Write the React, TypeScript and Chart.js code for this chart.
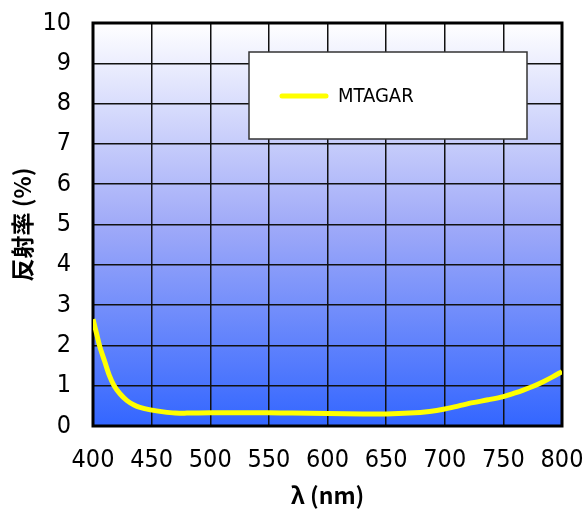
import { useEffect, useRef } from 'react';
import { Chart, registerables } from 'chart.js';

Chart.register(...registerables);

const wavelengths = [400, 403, 406, 410, 414, 418, 423, 429, 435, 440, 449, 460, 470, 480, 500, 520, 550, 570, 600, 630, 650, 670, 687, 700, 712, 724, 737, 750, 760, 767, 775, 784, 792, 800];
const reflectance = [2.65, 2.3, 1.95, 1.6, 1.25, 1.0, 0.8, 0.63, 0.52, 0.46, 0.4, 0.35, 0.32, 0.32, 0.33, 0.33, 0.33, 0.32, 0.31, 0.3, 0.3, 0.32, 0.36, 0.42, 0.5, 0.58, 0.65, 0.73, 0.82, 0.89, 0.98, 1.1, 1.22, 1.35];
const seriesLabel = 'MTAGAR';
const xTitle = 'λ (nm)';
const yTitle = '反射率 (%)';
const xMin = 400;
const xMax = 800;
const xStep = 50;
const yMin = 0;
const yMax = 10;
const yStep = 1;

const tickFont = '"DejaVu Sans Condensed", "Liberation Sans Narrow", sans-serif';

const bgPlugin = {
  id: 'bgGradient',
  beforeDraw(chart: any) {
    const { ctx, chartArea: a } = chart;
    if (!a) return;
    const g = ctx.createLinearGradient(0, a.top, 0, a.bottom);
    g.addColorStop(0, '#ffffff');
    g.addColorStop(0.5, '#a0aaf8');
    g.addColorStop(1, '#3366ff');
    ctx.save();
    ctx.fillStyle = g;
    ctx.fillRect(a.left, a.top, a.right - a.left, a.bottom - a.top);
    ctx.restore();
  },
  beforeDatasetsDraw(chart: any) {
    const { ctx, chartArea: a } = chart;
    ctx.save();
    ctx.strokeStyle = '#000000';
    ctx.lineWidth = 3;
    ctx.strokeRect(a.left, a.top, a.right - a.left, a.bottom - a.top);
    ctx.restore();
  },
};

const boxLegendPlugin = {
  id: 'boxLegend',
  afterDraw(chart: any) {
    const { ctx, chartArea: a } = chart;
    const ds = chart.data.datasets[0];
    const x0 = a.left + 156;
    const y0 = a.top + 29;
    const w = 278;
    const h = 87;
    ctx.save();
    ctx.fillStyle = '#ffffff';
    ctx.fillRect(x0, y0, w, h);
    ctx.strokeStyle = '#333333';
    ctx.lineWidth = 1.5;
    ctx.strokeRect(x0, y0, w, h);
    const ly = y0 + 44;
    ctx.strokeStyle = ds.borderColor;
    ctx.lineWidth = 5;
    ctx.lineCap = 'round';
    ctx.beginPath();
    ctx.moveTo(x0 + 33, ly);
    ctx.lineTo(x0 + 77, ly);
    ctx.stroke();
    ctx.fillStyle = '#000000';
    ctx.font = '20px ' + tickFont;
    ctx.textBaseline = 'middle';
    ctx.textAlign = 'left';
    ctx.fillText(ds.label, x0 + 89, ly + 1);
    ctx.restore();
  },
};

export default function App() {
  const ref = useRef<HTMLCanvasElement | null>(null);

  useEffect(() => {
    if (!ref.current) return;
    const chart = new Chart(ref.current, {
      type: 'line',
      data: {
        datasets: [
          {
            label: seriesLabel,
            data: wavelengths.map((x, i) => ({ x, y: reflectance[i] })),
            borderColor: '#ffff00',
            backgroundColor: '#ffff00',
            borderWidth: 5,
            pointRadius: 0,
            tension: 0.3,
            fill: false,
          },
        ],
      },
      options: {
        animation: false,
        responsive: false,
        layout: { padding: { left: 0, right: 21, top: 23, bottom: 0 } },
        plugins: {
          legend: { display: false },
          tooltip: { enabled: false },
        },
        scales: {
          x: {
            type: 'linear',
            min: xMin,
            max: xMax,
            ticks: {
              stepSize: xStep,
              color: '#000000',
              font: { family: tickFont, size: 25 },
              padding: 19,
              maxRotation: 0,
            },
            grid: { color: '#111111', lineWidth: 1.5, drawTicks: false },
            border: { display: false },
            title: {
              display: true,
              text: xTitle,
              color: '#000000',
              font: { family: '"Noto Sans CJK JP", "DejaVu Sans", sans-serif', size: 23, weight: 'bold' },
              padding: { top: 0, bottom: 0 },
            },
            afterFit(scale: any) {
              scale.height = 83;
              scale.paddingLeft = 0;
              scale.paddingRight = 0;
            },
          },
          y: {
            type: 'linear',
            min: yMin,
            max: yMax,
            ticks: {
              stepSize: yStep,
              color: '#000000',
              font: { family: tickFont, size: 25 },
              padding: 22,
            },
            grid: { color: '#111111', lineWidth: 1.5, drawTicks: false },
            border: { display: false },
            title: {
              display: true,
              text: yTitle,
              color: '#000000',
              font: { family: '"Noto Sans CJK JP", sans-serif', size: 23, weight: 'bold' },
              padding: { top: 8, bottom: 0 },
            },
            afterFit(scale: any) {
              scale.width = 93;
              scale.paddingTop = 0;
              scale.paddingBottom = 0;
            },
          },
        },
      },
      plugins: [bgPlugin, boxLegendPlugin],
    });
    return () => chart.destroy();
  }, []);

  return (
    <div style={{ position: 'fixed', left: 0, top: 0, width: 583, height: 509, background: '#ffffff' }}>
      <canvas ref={ref} width={583} height={509} style={{ display: 'block', width: 583, height: 509 }} />
    </div>
  );
}
